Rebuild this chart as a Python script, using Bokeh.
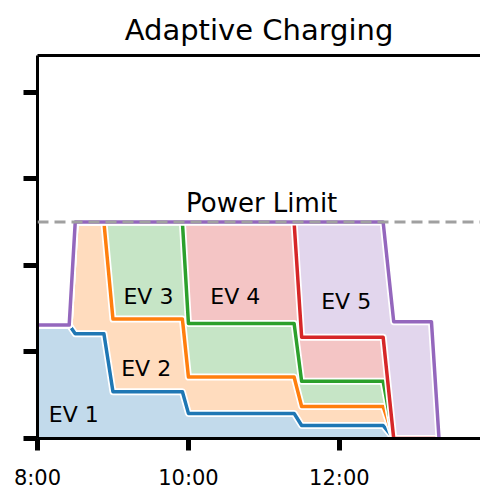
from bokeh.plotting import figure
from bokeh.models import (ColumnDataSource, Range1d, FixedTicker, LinearAxis,
                          Span, Label)
from bokeh.transform import stack
from bokeh.embed import file_html
from bokeh.resources import INLINE

# ---- data (hours since midnight, kW) ----
time_h = [8.00, 8.42, 8.50, 8.88, 9.00, 9.92, 10.00, 11.40, 11.50, 12.58, 12.72, 13.22, 13.32]
ev1 = [13.1, 13.1, 12.1, 12.1, 5.4, 5.4, 2.9, 2.9, 1.5, 1.5, 0.0, 0.0, 0.0]
ev2 = [0.0, 0.0, 12.9, 12.9, 8.4, 8.4, 4.2, 4.2, 2.2, 2.2, 0.0, 0.0, 0.0]
ev3 = [0.0, 0.0, 0.0, 0.0, 11.2, 11.2, 6.2, 6.2, 2.9, 2.9, 0.0, 0.0, 0.0]
ev4 = [0.0, 0.0, 0.0, 0.0, 0.0, 0.0, 11.7, 11.7, 5.1, 5.1, 0.0, 0.0, 0.0]
ev5 = [0.0, 0.0, 0.0, 0.0, 0.0, 0.0, 0.0, 0.0, 13.3, 13.3, 13.5, 13.5, 0.0]
POWER_LIMIT = 25.0
series_names = ["EV 1", "EV 2", "EV 3", "EV 4", "EV 5"]
x_ticks = [8, 10, 12]
x_tick_labels = ["8:00", "10:00", "12:00"]
y_ticks = [0, 10, 20, 30, 40]

colors = ["#1f77b4", "#ff7f0e", "#2ca02c", "#d62728", "#9467bd"]
FONT = "DejaVu Sans"

keys = ["ev1", "ev2", "ev3", "ev4", "ev5"]
source = ColumnDataSource(dict(t=time_h, ev1=ev1, ev2=ev2, ev3=ev3, ev4=ev4, ev5=ev5))

p = figure(width=480, height=492, output_backend="svg", toolbar_location=None,
           x_range=Range1d(8.0, 13.87), y_range=Range1d(0, 44.25),
           min_border_left=37, min_border_right=0, min_border_top=55,
           min_border_bottom=52, title="Adaptive Charging")
p.outline_line_color = None
p.xgrid.visible = False
p.ygrid.visible = False
p.background_fill_color = "white"
p.border_fill_color = "white"

p.title.text_font = FONT
p.title.text_font_size = "29px"
p.title.text_font_style = "normal"
p.title.align = "center"
p.title.text_color = "black"
p.title.standoff = 18

# bottom axis
xa = p.xaxis[0]
xa.ticker = FixedTicker(ticks=x_ticks)
xa.major_label_overrides = {t: l for t, l in zip(x_ticks, x_tick_labels)}
xa.major_label_text_font = FONT
xa.major_label_text_font_size = "21px"
xa.major_label_text_color = "black"
xa.major_label_standoff = 15
xa.axis_line_width = 3
xa.axis_line_color = "black"
xa.major_tick_line_width = 5
xa.major_tick_line_color = "black"
xa.major_tick_out = 12
xa.major_tick_in = 0
xa.minor_tick_line_color = None

# left axis
ya = p.yaxis[0]
ya.ticker = FixedTicker(ticks=y_ticks)
ya.major_label_text_font_size = "0px"
ya.major_label_text_alpha = 0
ya.axis_line_width = 3
ya.axis_line_color = "black"
ya.major_tick_line_width = 5
ya.major_tick_line_color = "black"
ya.major_tick_out = 14
ya.major_tick_in = 0
ya.minor_tick_line_color = None

# top spine
top = LinearAxis(axis_line_width=3, axis_line_color="black",
                 major_tick_line_color=None, minor_tick_line_color=None,
                 major_label_text_font_size="0px", major_label_text_alpha=0)
top.ticker = FixedTicker(ticks=[])
p.add_layout(top, "above")

# stacked areas
p.varea_stack(stackers=keys, x="t", color=colors, fill_alpha=0.27, source=source)

# stacked boundary lines with white halo
for i, (k, c) in enumerate(zip(keys, colors)):
    ys = stack(*keys[: i + 1])
    p.line(x="t", y=ys, source=source, line_color="white", line_width=7,
           line_join="round", line_cap="round")
    p.line(x="t", y=ys, source=source, line_color=c, line_width=3.5,
           line_join="round", line_cap="round")

# power limit
p.add_layout(Span(location=POWER_LIMIT, dimension="width", line_color="#a0a0a0",
                  line_width=3, line_dash="11 6"))
p.add_layout(Label(x=10.97, y=27.2, text="Power Limit", text_font=FONT,
                   text_font_size="26px", text_align="center",
                   text_baseline="middle", text_color="black"))

label_pos = [(8.48, 2.8), (9.44, 8.1), (9.47, 16.4), (10.62, 16.4), (12.09, 15.8)]
for name, (lx, ly) in zip(series_names, label_pos):
    p.add_layout(Label(x=lx, y=ly, text=name, text_font=FONT, text_font_size="22px",
                       text_align="center", text_baseline="middle",
                       text_color="black"))

open("out.html", "w").write(file_html(p, INLINE))
